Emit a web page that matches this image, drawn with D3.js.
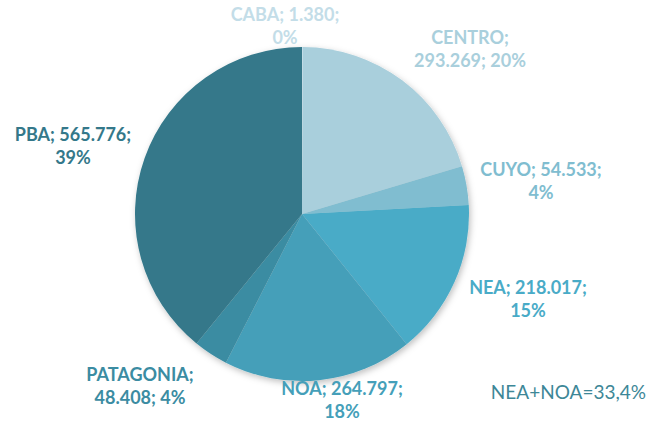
<!DOCTYPE html>
<html>
<head>
<meta charset="utf-8">
<script src="https://cdn.jsdelivr.net/npm/d3@7"></script>
<style>
  body { margin: 0; background: #fff; }
  svg text { font-family: Lato, "Open Sans", sans-serif; }
</style>
</head>
<body>
<svg id="chart" width="650" height="422"></svg>
<script>
// Data
const regions = ["CABA", "CENTRO", "CUYO", "NEA", "NOA", "PATAGONIA", "PBA"];
const values = [1380, 293269, 54533, 218017, 264797, 48408, 565776];
const valueLabels = ["1.380", "293.269", "54.533", "218.017", "264.797", "48.408", "565.776"];
const pctLabels = ["0%", "20%", "4%", "15%", "18%", "4%", "39%"];
const colors = ["#c3dde8", "#a9cfdc", "#80bdd0", "#49abc7", "#459fb9", "#3b8ca2", "#34788a"];
const note = "NEA+NOA=33,4%";

// label layout (text lines + anchor centre), Excel "best fit" style
const labelLines = [
  ["CABA; 1.380;", "0%"],
  ["CENTRO;", "293.269; 20%"],
  ["CUYO; 54.533;", "4%"],
  ["NEA; 218.017;", "15%"],
  ["NOA; 264.797;", "18%"],
  ["PATAGONIA;", "48.408; 4%"],
  ["PBA; 565.776;", "39%"]
];
const labelPos = [[285, 15], [470, 38], [541, 170], [528, 288], [342, 389], [140, 375], [73, 135]];

const svg = d3.select("#chart");
const cx = 302, cy = 214, radius = 167;

const defs = svg.append("defs");
const f = defs.append("filter").attr("id", "shadow")
  .attr("x", "-10%").attr("y", "-10%").attr("width", "125%").attr("height", "125%");
f.append("feDropShadow")
  .attr("dx", 1.5).attr("dy", 2.5)
  .attr("stdDeviation", 3)
  .attr("flood-color", "#000")
  .attr("flood-opacity", 0.25);

const pie = d3.pie().sort(null).value(d => d);
const arc = d3.arc().innerRadius(0).outerRadius(radius);

const g = svg.append("g")
  .attr("transform", `translate(${cx},${cy})`)
  .attr("filter", "url(#shadow)");

g.selectAll("path.slice")
  .data(pie(values))
  .enter()
  .append("path")
  .attr("class", "slice")
  .attr("d", arc)
  .attr("fill", (d, i) => colors[i]);

// Labels
const labels = svg.selectAll("text.lbl")
  .data(regions)
  .enter()
  .append("text")
  .attr("class", "lbl")
  .attr("text-anchor", "middle")
  .attr("font-weight", "bold")
  .attr("font-size", 18)
  .attr("fill", (d, i) => colors[i])
  .attr("x", (d, i) => labelPos[i][0])
  .attr("y", (d, i) => labelPos[i][1]);

labels.each(function (d, i) {
  const t = d3.select(this);
  labelLines[i].forEach((line, j) => {
    t.append("tspan")
      .attr("x", labelPos[i][0])
      .attr("dy", j === 0 ? "0.35em" : 23)
      .text(line);
  });
});

svg.append("text")
  .attr("x", 646)
  .attr("y", 392)
  .attr("dy", "0.35em")
  .attr("text-anchor", "end")
  .attr("font-size", 19)
  .attr("fill", "#3d8797")
  .text(note);
</script>
</body>
</html>
